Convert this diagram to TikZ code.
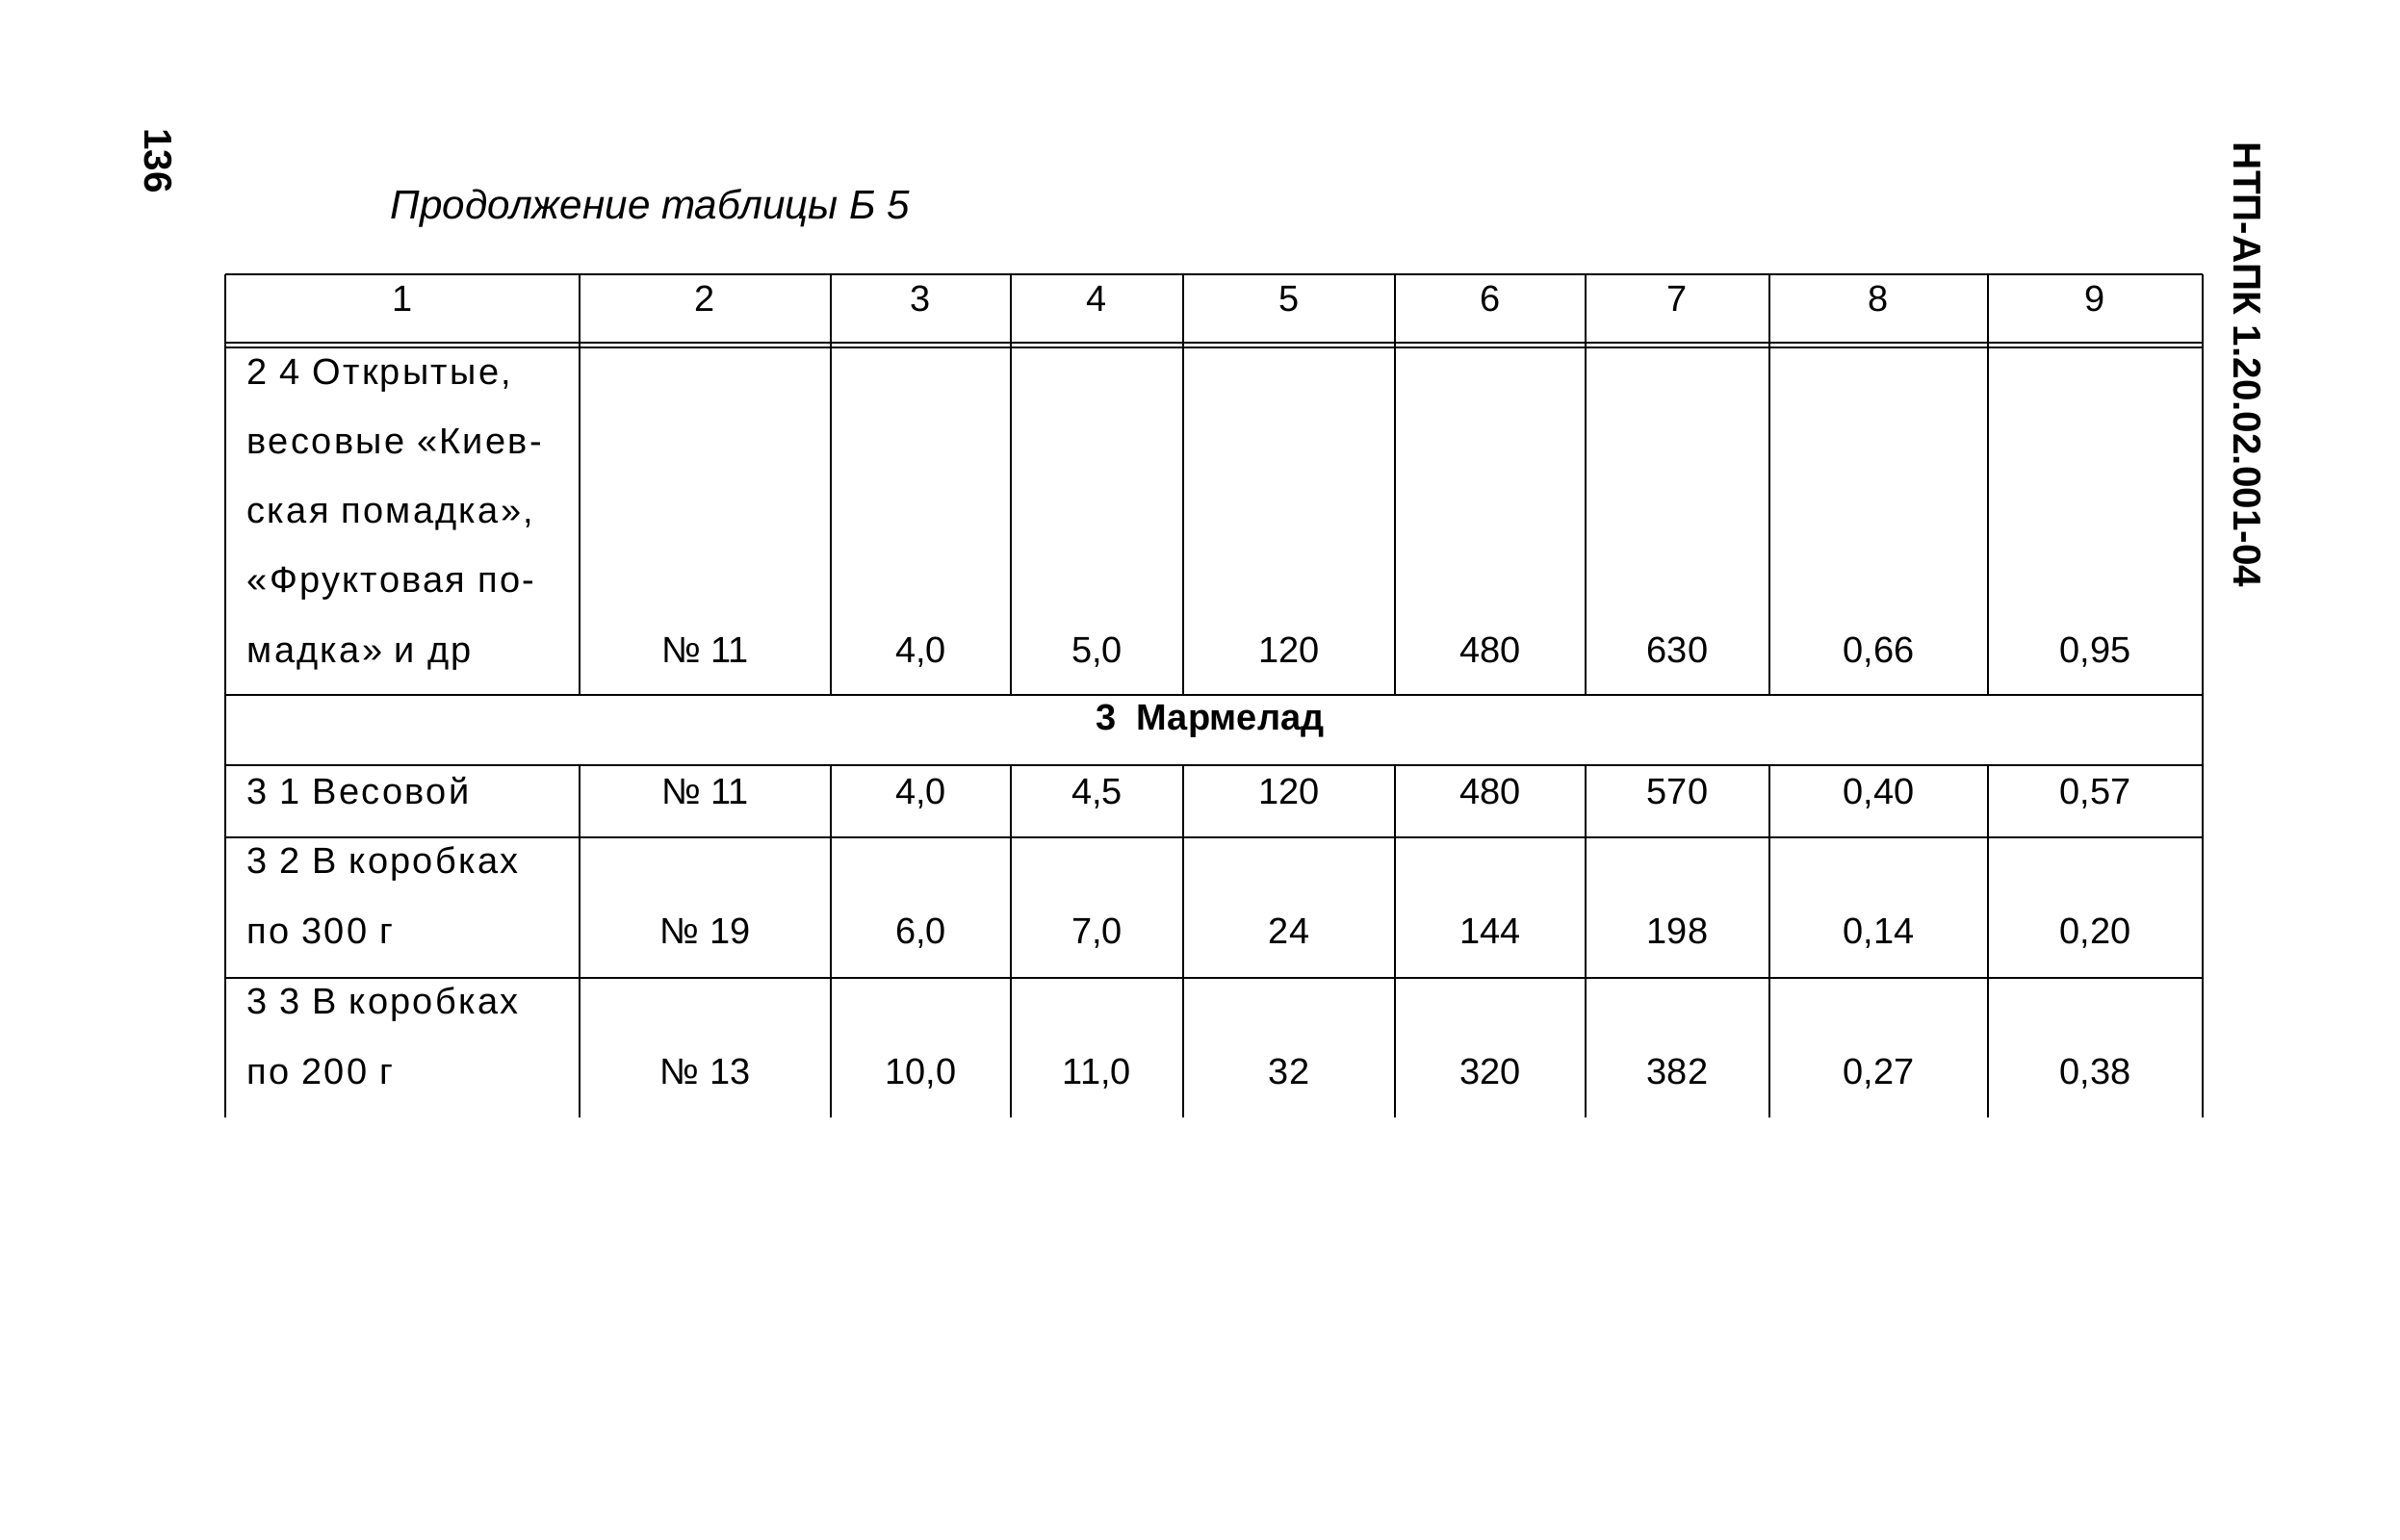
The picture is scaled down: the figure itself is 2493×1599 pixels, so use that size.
\documentclass[tikz,border=0pt]{standalone}
\usepackage{fontspec}
\setmainfont{Liberation Sans}
\newfontfamily\spacedfont[LetterSpace=6]{Liberation Sans}
\newcommand\celltext{\fontsize{10.8pt}{20.5pt}\selectfont}
\tikzset{
  rule/.style={line width=0.8pt},
  num/.style={anchor=base,inner sep=0pt,font=\celltext},
  txt/.style={anchor=base west,inner sep=0pt,align=left,font=\celltext\spacedfont},
  caption/.style={anchor=base west,inner sep=0pt,font=\fontsize{12pt}{14pt}\selectfont\itshape},
  margin/.style={inner sep=0pt,rotate=-90,font=\fontsize{11.5pt}{13pt}\selectfont\bfseries}
}
\begin{document}
\begin{tikzpicture}[x=0.01cm,y=-0.01cm]
    \useasboundingbox (0,0) rectangle (2493,1599);
    %% page number and document code
    \node[margin] (page) at (164,167) {136};
    \node[margin] (code) at (2334,379) {НТП-АПК 1.20.02.001-04};
    %% caption
    \node[caption] (cap) at (405,227) {Продолжение таблицы Б 5};
    %% horizontal rules
    \draw[rule] (234,285) -- (2288,285);
    \draw[rule] (234,356) -- (2288,356);
    \draw[rule] (234,361) -- (2288,361);
    \foreach \y in {722,795,870,1016}
        \draw[rule] (234,\y) -- (2288,\y);
    %% vertical rules
    \draw[rule] (234,285) -- (234,1161);
    \draw[rule] (2288,285) -- (2288,1161);
    \foreach \x in {602,863,1050,1229,1449,1647,1838,2065} {
        \draw[rule] (\x,285) -- (\x,722);
        \draw[rule] (\x,795) -- (\x,1161);
    }
    %% column centres
    \foreach \n/\x in {1/418,2/732.5,3/956.5,4/1139.5,5/1339,6/1548,7/1742.5,8/1951.5,9/2176.5}
        \coordinate (col\n) at (\x,0);
    %% header
    \foreach \n in {1,...,9}
        \node[num] (h\n) at (col\n |- 0,323) {\n};
    %% 2.4 (anchored on the last line)
    \node[txt] (t24) at (256,688) {2 4 Открытые,\\весовые «Киев-\\ская помадка»,\\«Фруктовая по-\\мадка» и др};
    \foreach \v [count=\n from 2] in {{№ 11},{4,0},{5,0},120,480,630,{0,66},{0,95}}
        \node[num] (a\n) at (col\n |- 0,688) {\v};
    %% section 3
    \node[num,font=\celltext\bfseries] (sec3) at (1257,758) {3\ \ Мармелад};
    \node[txt] (t31) at (256,835) {3 1 Весовой};
    \foreach \v [count=\n from 2] in {{№ 11},{4,0},{4,5},120,480,570,{0,40},{0,57}}
        \node[num] (b\n) at (col\n |- 0,835) {\v};
    \node[txt] (t32) at (256,980) {3 2 В коробках\\по 300 г};
    \foreach \v [count=\n from 2] in {{№ 19},{6,0},{7,0},24,144,198,{0,14},{0,20}}
        \node[num] (c\n) at (col\n |- 0,980) {\v};
    \node[txt] (t33) at (256,1126) {3 3 В коробках\\по 200 г};
    \foreach \v [count=\n from 2] in {{№ 13},{10,0},{11,0},32,320,382,{0,27},{0,38}}
        \node[num] (d\n) at (col\n |- 0,1126) {\v};
\end{tikzpicture}
\end{document}
